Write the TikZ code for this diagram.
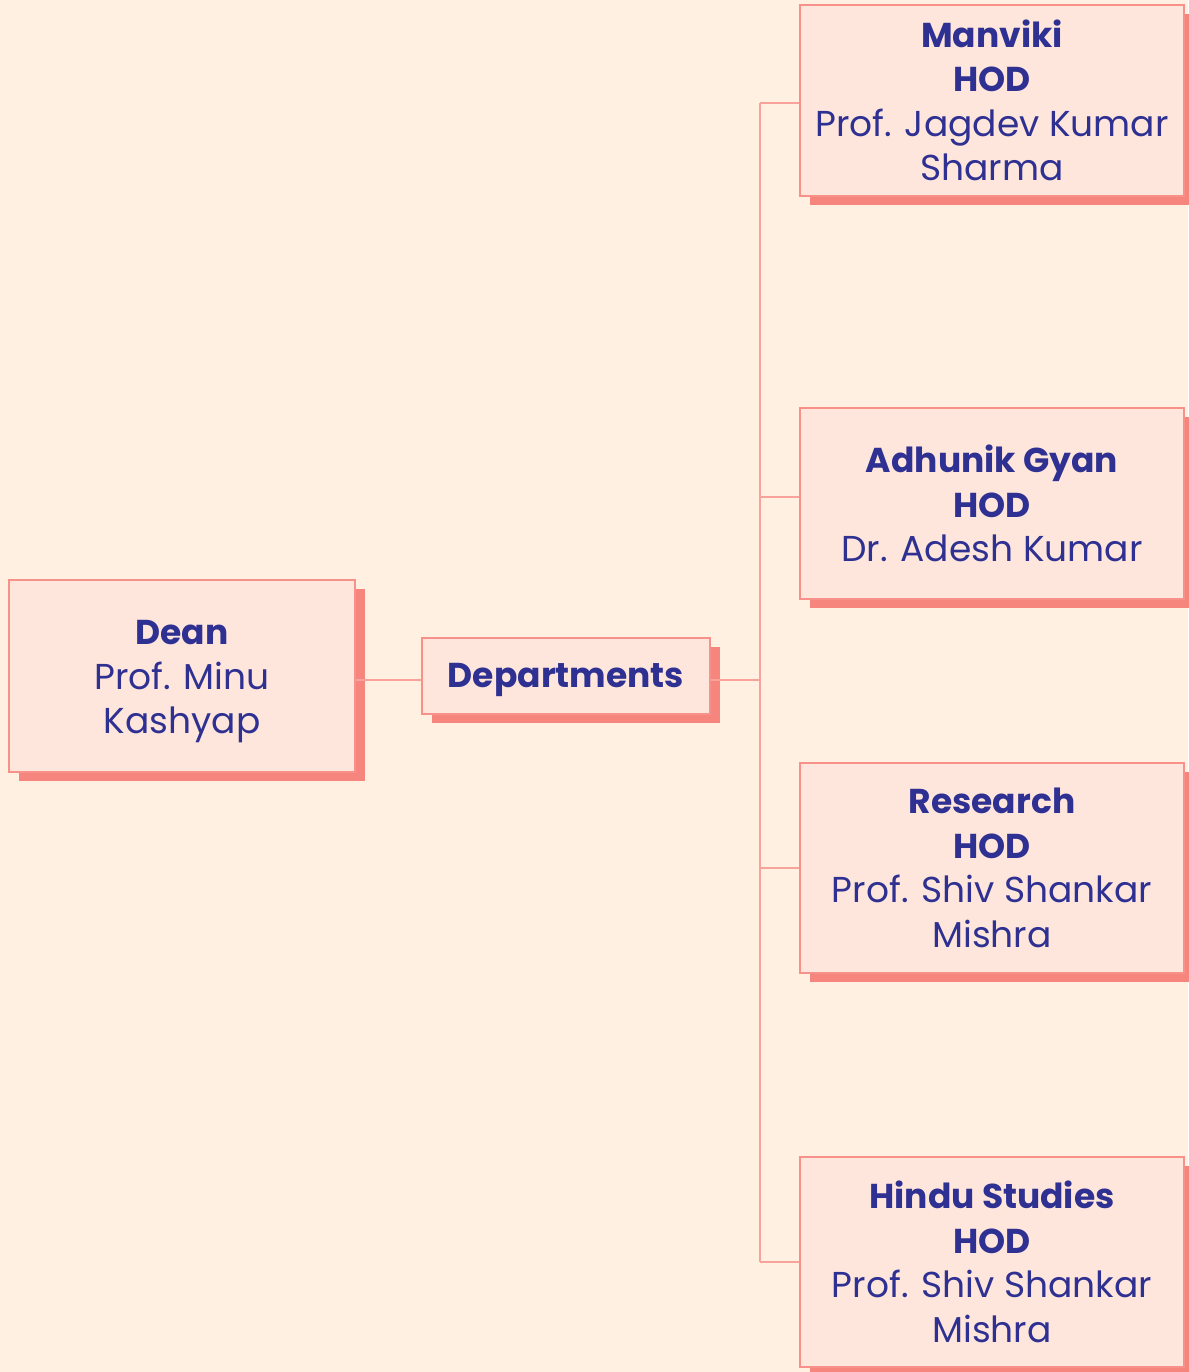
\documentclass[tikz,border=0pt]{standalone}
\usepackage{fontspec}
\setmainfont{Poppins}
\usetikzlibrary{shadows}
\definecolor{bgc}{HTML}{FFF0E1}
\definecolor{boxfill}{HTML}{FFE6DC}
\definecolor{boxline}{HTML}{F7918A}
\definecolor{shadowc}{HTML}{F5857D}
\definecolor{connc}{HTML}{F7A29B}
\definecolor{textblue}{HTML}{2E3192}
\newcommand\hd[1]{{\fontsize{34.5}{44.5}\selectfont\bfseries #1}}
\begin{document}
\begin{tikzpicture}[x=1pt,y=-1pt,
  box/.style={draw=boxline, fill=boxfill, line width=1.5pt, align=center, inner sep=0pt,
    font=\fontsize{36}{44.5}\selectfont, text=textblue,
    drop shadow={shadow xshift=10pt, shadow yshift=-9pt, fill=shadowc, opacity=1}},
  txt/.style={align=center, inner sep=0pt, font=\fontsize{36}{44.5}\selectfont, text=textblue},
  conn/.style={draw=connc, line width=1.5pt}]
\useasboundingbox (0,0) rectangle (1188,1372);
\fill[bgc] (0,0) rectangle (1188,1372);
\coordinate (j0) at (760,680);
\coordinate (j1) at (760,103);
\coordinate (j2) at (760,497);
\coordinate (j3) at (760,868);
\coordinate (j4) at (760,1262);
\node[box, minimum width=346pt, minimum height=192pt] (dean) at (182,676) {};
\node[txt] (deantext) at ([yshift=-6pt]dean.center) {\hd{Dean}\\Prof. Minu\\Kashyap};
\node[box, minimum width=288pt, minimum height=76pt] (dept) at (566,676) {};
\node[txt] (depttext) at ([yshift=-4pt]dept.center) {\hd{Departments}};
\node[box, minimum width=384pt, minimum height=191pt] (man) at (992,100.5)
  {\hd{Manviki}\\\hd{HOD}\\Prof. Jagdev Kumar\\Sharma};
\node[box, minimum width=384pt, minimum height=191pt] (adh) at (992,503.5)
  {\hd{Adhunik Gyan}\\\hd{HOD}\\Dr. Adesh Kumar};
\node[box, minimum width=384pt, minimum height=210pt] (res) at (992,868)
  {\hd{Research}\\\hd{HOD}\\Prof. Shiv Shankar\\Mishra};
\node[box, minimum width=384pt, minimum height=210pt] (hin) at (992,1262)
  {\hd{Hindu Studies}\\\hd{HOD}\\Prof. Shiv Shankar\\Mishra};
\draw[conn] (dean.east |- j0) -- (dept.west |- j0);
\draw[conn] (dept.east |- j0) -- (j0);
\draw[conn] (j1) -- (j4);
\draw[conn] (j1) -- (man.west |- j1);
\draw[conn] (j2) -- (adh.west |- j2);
\draw[conn] (j3) -- (res.west |- j3);
\draw[conn] (j4) -- (hin.west |- j4);
\end{tikzpicture}
\end{document}
